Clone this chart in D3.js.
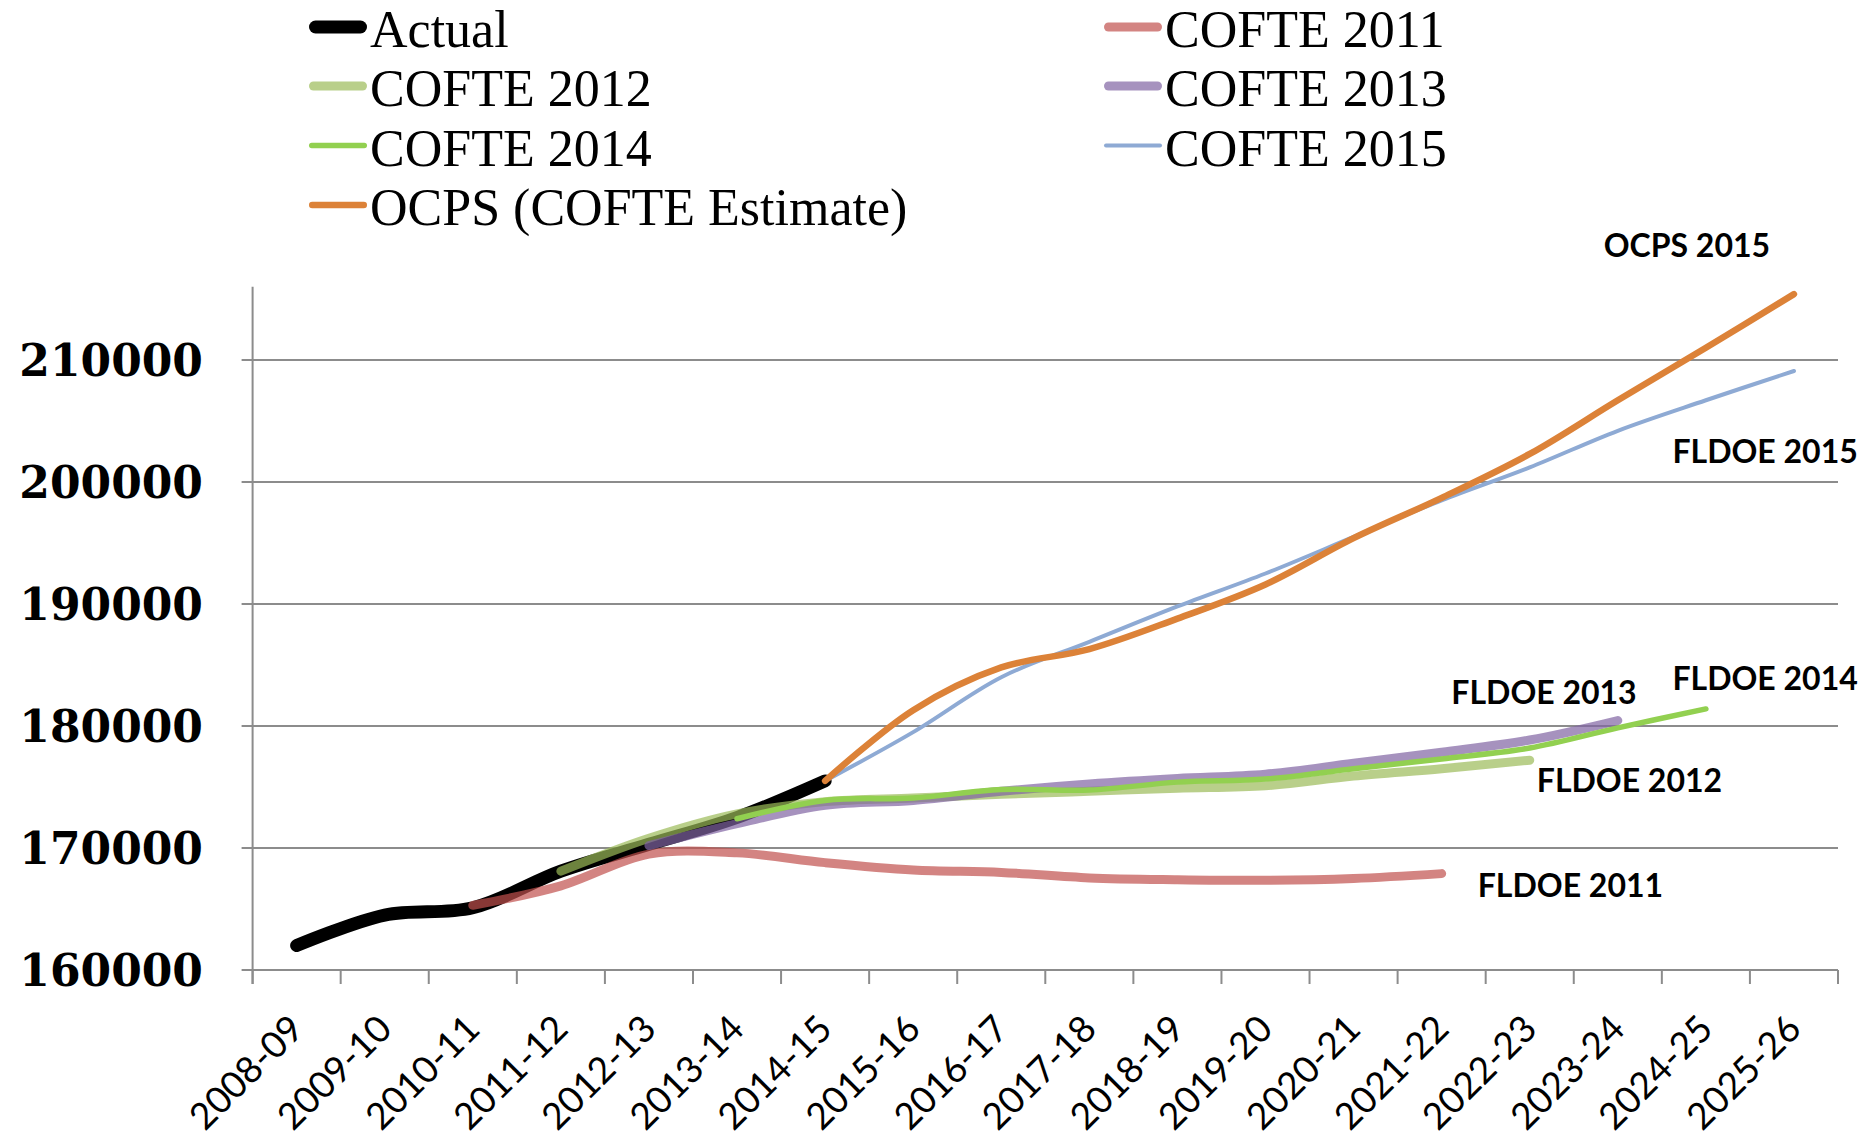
<!DOCTYPE html>
<html>
<head>
<meta charset="utf-8">
<script src="https://cdn.jsdelivr.net/npm/d3@7"></script>
<style>
body { margin: 0; background: #fff; }
</style>
</head>
<body>
<script>
var w = 1868;
var h = 1138;

var categories = ["2008-09","2009-10","2010-11","2011-12","2012-13","2013-14","2014-15","2015-16","2016-17",
  "2017-18","2018-19","2019-20","2020-21","2021-22","2022-23","2023-24","2024-25","2025-26"];
var yTicks = [160000,170000,180000,190000,200000,210000];

var actual    = [162000,164500,165100,168100,170300,172500,175500,null,null,null,null,null,null,null,null,null,null,null];
var cofte2011 = [null,null,165300,166900,169500,169600,168800,168200,168000,167550,167400,167350,167500,167900,null,null,null,null];
var cofte2012 = [null,null,null,168100,170800,172800,173800,174100,174400,174650,174900,175100,175900,176500,177200,null,null,null];
var cofte2013 = [null,null,null,null,170200,172000,173500,173900,174650,175250,175700,176050,176950,177850,178850,180450,null,null];
var cofte2014 = [null,null,null,null,null,172400,173900,174100,174800,174750,175400,175650,176500,177300,178200,179850,181400,null];
var cofte2015 = [null,null,null,null,null,null,175500,179500,184000,186900,189800,192500,195500,198500,201200,204200,206700,209100];
var ocps      = [null,null,null,null,null,null,175500,181300,184800,186300,188800,191600,195400,198700,202300,206700,211000,215400];

var seriesNames = ["Actual","COFTE 2011","COFTE 2012","COFTE 2013","COFTE 2014","COFTE 2015","OCPS (COFTE Estimate)"];
var seriesData = [actual,cofte2011,cofte2012,cofte2013,cofte2014,cofte2015,ocps];
var colors = ["#000000","#c0504d","#9bbb59","#8064a2","#92d050","#8eaad4","#dc8238"];
var widths = [13,9,9,9,5.5,4,6.5];
var opac = [1,0.7,0.7,0.7,1,1,1];

// free text labels: text, x position (in category units), y value
var noteText = ["OCPS 2015","FLDOE 2015","FLDOE 2013","FLDOE 2014","FLDOE 2012","FLDOE 2011"];
var noteX = [15.34,16.12,13.61,16.12,14.58,13.91];
var noteY = [218475,201557,181844,182910,174590,166016];

var plotL = 252.6, plotR = 1838, plotB = 970, plotT = 286.8;

var svg = d3.select("body").append("svg").attr("width",w).attr("height",h);

var x = d3.scaleBand().domain(categories).range([plotL,plotR]);
var y = d3.scaleLinear().domain([160000,216000]).range([plotB,plotT]);
var xi = d3.scaleLinear().domain([0,categories.length]).range([plotL,plotR]);

// grid
svg.selectAll("line.grid")
.data(yTicks)
.enter()
.append("line")
.attr("x1",plotL-11).attr("x2",plotR)
.attr("y1",function(d){return y(d);})
.attr("y2",function(d){return y(d);})
.attr("stroke","#8c8c8c")
.attr("stroke-width",2);

// y axis line
svg.append("line")
.attr("x1",plotL).attr("x2",plotL)
.attr("y1",plotT).attr("y2",plotB+14)
.attr("stroke","#8c8c8c").attr("stroke-width",2);

// x ticks
svg.selectAll("line.xt")
.data(d3.range(categories.length+1))
.enter()
.append("line")
.attr("x1",function(i){return xi(i);})
.attr("x2",function(i){return xi(i);})
.attr("y1",plotB).attr("y2",plotB+14)
.attr("stroke","#8c8c8c").attr("stroke-width",2);

svg.selectAll("text.yl")
.data(yTicks)
.enter()
.append("text")
.attr("x",203)
.attr("y",function(d){return y(d);})
.attr("dy","0.36em")
.attr("text-anchor","end")
.style("font-family","DejaVu Serif")
.style("font-weight","bold")
.style("font-size","44px")
.text(function(d){return d;});

svg.selectAll("text.xl")
.data(categories)
.enter()
.append("text")
.attr("transform",function(d){return "translate(" + (x(d)+x.bandwidth()/2) + "," + 1022 + ") rotate(-45)";})
.attr("dy","0.35em")
.attr("text-anchor","end")
.style("font-family","Lato")
.style("font-size","37px")
.text(function(d){return d;});

var line = d3.line()
.defined(function(d){return d != null;})
.x(function(d,i){return x(categories[i]) + x.bandwidth()/2;})
.y(function(d){return y(d);})
.curve(d3.curveCatmullRom.alpha(0.5));

svg.selectAll("path.series")
.data(seriesData)
.enter()
.append("path")
.attr("d",function(d){return line(d);})
.attr("fill","none")
.attr("stroke",function(d,i){return colors[i];})
.attr("stroke-width",function(d,i){return widths[i];})
.attr("stroke-opacity",function(d,i){return opac[i];})
.attr("stroke-linecap","round")
.attr("stroke-linejoin","round");

svg.selectAll("text.note")
.data(noteText)
.enter()
.append("text")
.attr("x",function(d,i){return xi(noteX[i]);})
.attr("y",function(d,i){return y(noteY[i]);})
.style("font-family","Lato")
.style("font-weight","bold")
.style("font-size","32px")
.text(function(d){return d;});

// legend, two columns, order like the original
var legOrder = [0,1,2,3,4,5,6];
var legCol = [0,1,0,1,0,1,0];
var legRow = [0,0,1,1,2,2,3];
var colX = [307,1102];
var rowY = [27,86,145.5,205];

var leg = svg.selectAll("g.leg")
.data(legOrder)
.enter()
.append("g")
.attr("transform",function(d,i){return "translate(" + colX[legCol[i]] + "," + rowY[legRow[i]] + ")";});

leg.append("line")
.attr("x1",function(d){return 2+widths[d]/2;}).attr("x2",function(d){return 60-widths[d]/2;})
.attr("y1",0).attr("y2",0)
.attr("stroke",function(d){return colors[d];})
.attr("stroke-width",function(d){return widths[d];})
.attr("stroke-opacity",function(d){return opac[d];})
.attr("stroke-linecap","round");

leg.append("text")
.attr("x",63)
.attr("y",20)
.style("font-family","Liberation Serif")
.style("font-size","52px")
.text(function(d){return seriesNames[d];});
</script>
</body>
</html>
